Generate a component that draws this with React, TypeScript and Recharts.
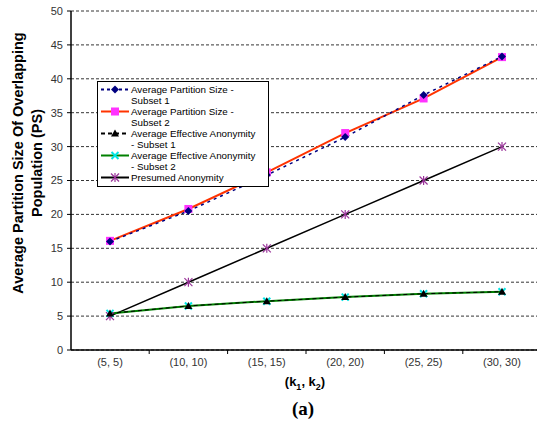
import React from "react";
import { LineChart, Line, XAxis, YAxis, CartesianGrid } from "recharts";

const categories = ["(5, 5)", "(10, 10)", "(15, 15)", "(20, 20)", "(25, 25)", "(30, 30)"];
const partitionSubset1 = [16.0, 20.5, 25.8, 31.4, 37.6, 43.3];
const partitionSubset2 = [16.1, 20.8, 26.2, 32.0, 37.1, 43.2];
const effectiveSubset1 = [5.4, 6.5, 7.2, 7.8, 8.3, 8.6];
const effectiveSubset2 = [5.4, 6.5, 7.2, 7.8, 8.3, 8.6];
const presumed = [5, 10, 15, 20, 25, 30];
const yTicks = [0, 5, 10, 15, 20, 25, 30, 35, 40, 45, 50];

const data = categories.map((k, i) => ({
  k,
  ps1: partitionSubset1[i],
  ps2: partitionSubset2[i],
  ea1: effectiveSubset1[i],
  ea2: effectiveSubset2[i],
  pa: presumed[i],
}));

const FONT = "Arial, 'Liberation Sans', sans-serif";

type MarkerKind = "diamond" | "square" | "triangle" | "xcross" | "star";

function markerSvg(kind: MarkerKind, cx: number, cy: number, key?: string) {
  switch (kind) {
    case "diamond":
      return (
        <path key={key} d={`M${cx},${cy - 4} L${cx + 4},${cy} L${cx},${cy + 4} L${cx - 4},${cy} Z`} fill="#000080" />
      );
    case "square":
      return <rect key={key} x={cx - 4} y={cy - 4} width={8} height={8} fill="#ff33ff" />;
    case "triangle":
      return (
        <path key={key} d={`M${cx},${cy - 4} L${cx + 4},${cy + 3} L${cx - 4},${cy + 3} Z`} fill="#000" />
      );
    case "xcross":
      return (
        <g key={key} stroke="#00e5e5" strokeWidth={2}>
          <line x1={cx - 3.5} y1={cy - 3.5} x2={cx + 3.5} y2={cy + 3.5} />
          <line x1={cx - 3.5} y1={cy + 3.5} x2={cx + 3.5} y2={cy - 3.5} />
        </g>
      );
    case "star":
      return (
        <g key={key} stroke="#993399" strokeWidth={1.2}>
          <line x1={cx - 4} y1={cy - 4} x2={cx + 4} y2={cy + 4} />
          <line x1={cx - 4} y1={cy + 4} x2={cx + 4} y2={cy - 4} />
          <line x1={cx} y1={cy - 4.5} x2={cx} y2={cy + 4.5} />
        </g>
      );
  }
}

const dotFor = (kind: MarkerKind) => (props: any) =>
  markerSvg(kind, props.cx, props.cy, `${kind}-${props.index}`);

const legendItems: { label: string[]; color: string; dash?: string; marker: MarkerKind }[] = [
  { label: ["Average Partition Size -", "Subset 1"], color: "#000080", dash: "3 3", marker: "diamond" },
  { label: ["Average Partition Size -", "Subset 2"], color: "#ff3300", marker: "square" },
  { label: ["Average Effective Anonymity", "- Subset 1"], color: "#000", dash: "4 3", marker: "triangle" },
  { label: ["Average Effective Anonymity", "- Subset 2"], color: "#008000", marker: "xcross" },
  { label: ["Presumed Anonymity"], color: "#000", marker: "star" },
];

const XTick = (props: any) => {
  const { x, y, payload } = props;
  return (
    <g>
      <line x1={x + 39.2} y1={y - 8} x2={x + 39.2} y2={y - 4} stroke="#000" strokeWidth={1} />
      <text x={x} y={y} dy="0.71em" textAnchor="middle" fontSize={11} fill="#333" fontFamily={FONT}>
        {payload.value}
      </text>
    </g>
  );
};

export default function App() {
  return (
    <div style={{ position: "absolute", left: 0, top: 0, width: 537, height: 432, overflow: "hidden", background: "#fff" }}>
      <LineChart width={545} height={432} data={data} margin={{ top: 11, right: 4, left: 0, bottom: 0 }}>
        <CartesianGrid horizontal vertical={false} stroke="#000" strokeDasharray="3 2" strokeWidth={0.8} />
        <XAxis
          dataKey="k"
          padding={{ left: 39, right: 39 }}
          height={82}
          tickLine={false}
          axisLine={{ stroke: "#000", strokeWidth: 1.5 }}
          tick={<XTick />}
          interval={0}
        />
        <YAxis
          domain={[0, 50]}
          ticks={yTicks}
          width={71}
          tickSize={4}
          tickMargin={4}
          axisLine={{ stroke: "#000", strokeWidth: 1.5 }}
          tickLine={{ stroke: "#000" }}
          tick={{ fontSize: 11, fill: "#333", fontFamily: FONT }}
          interval={0}
        />
        <Line dataKey="pa" stroke="#000" strokeWidth={1.5} dot={dotFor("star")} isAnimationActive={false} />
        <Line dataKey="ea2" stroke="#008000" strokeWidth={2} dot={dotFor("xcross")} isAnimationActive={false} />
        <Line dataKey="ea1" stroke="#000" strokeWidth={1} strokeDasharray="4 3" dot={dotFor("triangle")} isAnimationActive={false} />
        <Line dataKey="ps2" stroke="#ff3300" strokeWidth={2} dot={dotFor("square")} isAnimationActive={false} />
        <Line dataKey="ps1" stroke="#000080" strokeWidth={1.5} strokeDasharray="3 4" dot={dotFor("diamond")} isAnimationActive={false} />
      </LineChart>

      {/* y axis title */}
      <div
        style={{
          position: "absolute",
          left: 27.5,
          top: 163,
          transform: "translate(-50%, -50%) rotate(-90deg)",
          whiteSpace: "nowrap",
          textAlign: "center",
          fontFamily: FONT,
          fontWeight: "bold",
          fontSize: 14.5,
          lineHeight: "19px",
          color: "#000",
        }}
      >
        Average Partition Size Of Overlapping
        <br />
        Population (PS)
      </div>

      {/* x axis title */}
      <div
        style={{
          position: "absolute",
          left: 305,
          top: 383,
          transform: "translate(-50%, -50%)",
          fontFamily: FONT,
          fontWeight: "bold",
          fontSize: 13,
          whiteSpace: "nowrap",
        }}
      >
        (k<sub style={{ fontSize: 9 }}>1</sub>, k<sub style={{ fontSize: 9 }}>2</sub>)
      </div>

      <div
        style={{
          position: "absolute",
          left: 303,
          top: 409,
          transform: "translate(-50%, -50%)",
          fontFamily: "'Liberation Serif', 'DejaVu Serif', serif",
          fontWeight: "bold",
          fontSize: 19,
        }}
      >
        (a)
      </div>

      {/* legend */}
      <div
        style={{
          position: "absolute",
          left: 97,
          top: 81,
          width: 172,
          height: 106,
          border: "1px solid #000",
          background: "#fff",
          boxSizing: "border-box",
          fontFamily: FONT,
          fontSize: 9.8,
          lineHeight: "11px",
          color: "#000",
          paddingTop: 2,
        }}
      >
        {legendItems.map((it) => (
          <div key={it.label.join(" ")} style={{ display: "flex", alignItems: "flex-start", height: it.label.length * 11 }}>
            <svg width={33} height={11} style={{ flex: "0 0 auto" }}>
              <line x1={3} y1={5.5} x2={31} y2={5.5} stroke={it.color} strokeWidth={2} strokeDasharray={it.dash} />
              {markerSvg(it.marker, 17, 5.5)}
            </svg>
            <div>
              {it.label.map((l) => (
                <div key={l} style={{ height: 11, whiteSpace: "nowrap" }}>{l}</div>
              ))}
            </div>
          </div>
        ))}
      </div>
    </div>
  );
}
